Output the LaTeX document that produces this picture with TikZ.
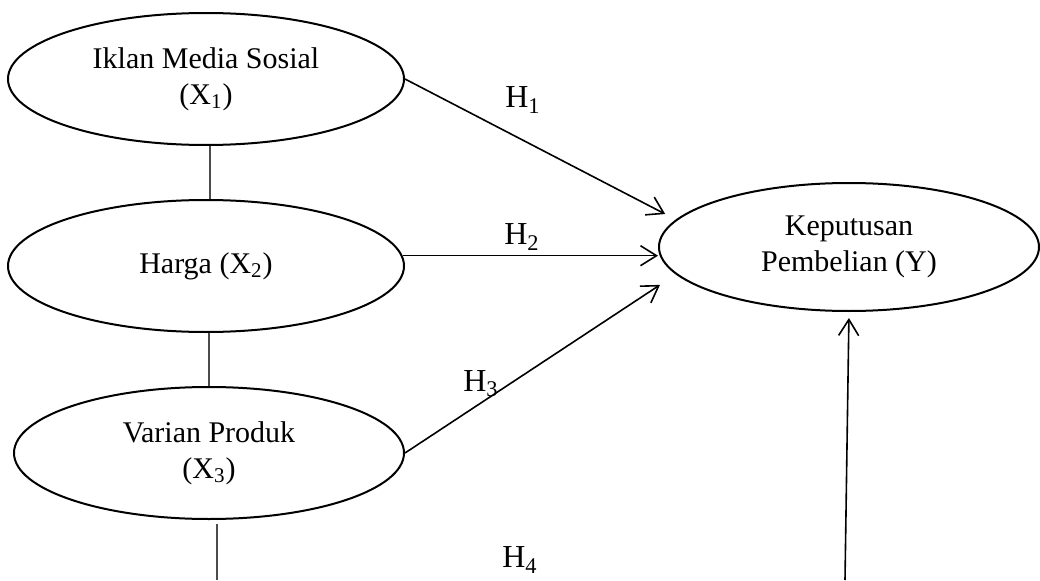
\documentclass[tikz,border=0pt]{standalone}
\usepackage{fontspec}
\setmainfont{Liberation Serif}
\usetikzlibrary{arrows.meta, positioning, shapes.geometric}

\begin{document}
\begin{tikzpicture}[x=1pt, y=1pt, node distance=93.5pt,
  var/.style={draw, ellipse, line width=1pt, inner sep=0pt, minimum width=198pt, minimum height=66pt,
              align=center, font=\fontsize{15}{18}\selectfont},
  link/.style={draw, line width=0.6pt, black!70},
  hyp/.style={draw, line width=0.8pt, -{Straight Barb[length=8pt, width=10pt]}},
  lbl/.style={font=\fontsize{16}{18}\selectfont}]

\useasboundingbox (0,0) rectangle (520,290);

\node [var                                                    ] (x1) at (103,250.5) {Iklan Media Sosial\\(X\textsubscript{1})};
\node [var, below of=x1                                       ] (x2) {Harga (X\textsubscript{2})};
\node [var, below of=x2, xshift=1.5pt, minimum width=195pt    ] (x3) {Varian Produk\\(X\textsubscript{3})};
\node [var, right of=x2, xshift=228pt, yshift=9.5pt,
       minimum width=190pt, minimum height=64pt               ] (y)  {Keputusan\\Pembelian (Y)};

\coordinate (x3end) at (108.5,0);
\coordinate (yend)  at (422.5,0);

\path [link] ([xshift=2pt]x1.south) -- ([xshift=2pt]x1.south |- x2.north);
\path [link] (x3.north |- x2.south) -- (x3.north);
\path [link, shorten <=2pt] (x3.south -| x3end) -- (x3end);

\path [hyp, shorten >=6pt  ] (x1.east)  -- (y.171);
\path [hyp                 ] (x2.3)     -- (x2.3 -| y.west);
\path [hyp, shorten >=9.5pt] (x3.east)  -- (y.189);
\path [hyp, shorten >=3pt  ] (yend)     -- (y.south);

\node [lbl] (h1) at (261.5,240) {H\textsubscript{1}};
\node [lbl] (h2) at (261,171.5) {H\textsubscript{2}};
\node [lbl] (h3) at (240.5,98)  {H\textsubscript{3}};
\node [lbl] (h4) at (260,10)    {H\textsubscript{4}};

\end{tikzpicture}
\end{document}
